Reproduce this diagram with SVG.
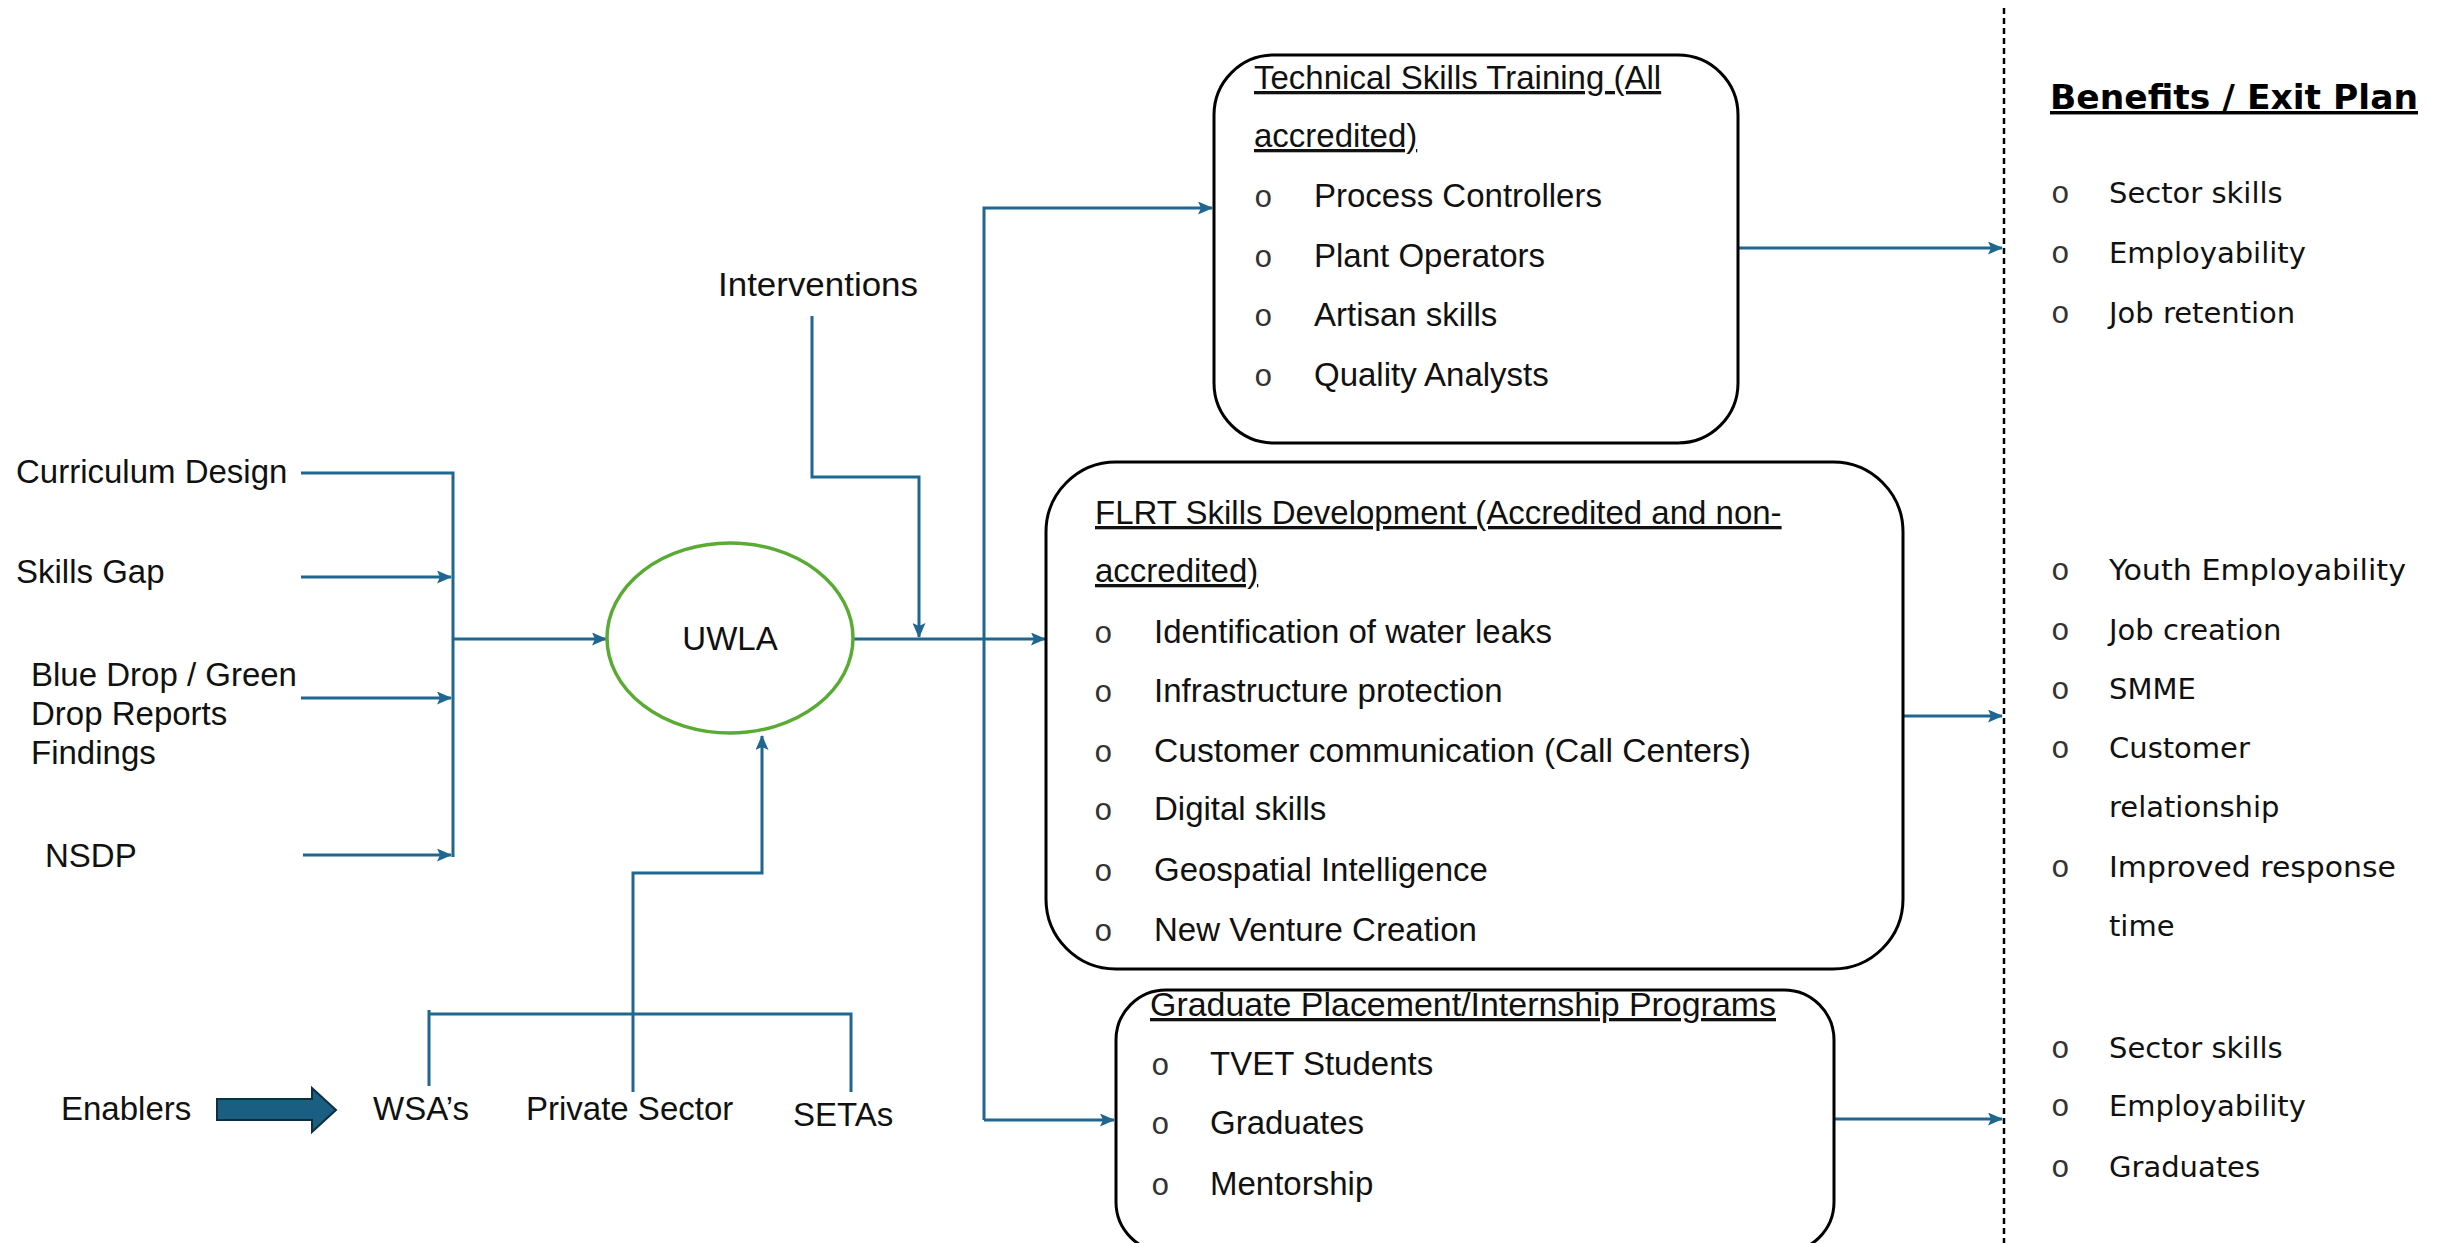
<svg xmlns="http://www.w3.org/2000/svg" width="2447" height="1243" viewBox="0 0 2447 1243">
  <style>
    .lbl { font-family: "Liberation Sans", Arial, sans-serif; font-size: 33px; fill: #111; }
    .ben { font-family: "DejaVu Sans", "Liberation Sans", sans-serif; font-size: 29px; fill: #111; }
    .benh { font-family: "DejaVu Sans", "Liberation Sans", sans-serif; font-size: 34.5px; font-weight: bold; fill: #000; text-decoration: underline; }
    .ul { text-decoration: underline; }
    .bul { font-family: "Liberation Mono", "Courier New", monospace; font-size: 31px; fill: #333; }
    .box { fill: #fff; stroke: #000; stroke-width: 3; }
    .wire { fill: none; stroke: #1f6690; stroke-width: 3; }
    .arr { marker-end: url(#head); }
  </style>
  <defs>
    <marker id="head" viewBox="0 0 15 13" markerWidth="15" markerHeight="13" refX="14" refY="6.5" orient="auto" markerUnits="userSpaceOnUse">
      <path d="M0,0 L15,6.5 L0,13 L3,6.5 z" fill="#1f6690"/>
    </marker>
  </defs>

  <rect width="2447" height="1243" fill="#fff"/>

  <!-- divider before the benefits column -->
  <line x1="2004" y1="8" x2="2004" y2="1243" stroke="#000" stroke-width="2.5" stroke-dasharray="6 4"/>

  <!-- connectors -->
  <g id="connectors">
    <path class="wire" d="M301,473 H453 V857"/>
    <path class="wire arr" d="M301,577 H451"/>
    <path class="wire arr" d="M301,698 H451"/>
    <path class="wire arr" d="M303,855 H451"/>
    <path class="wire arr" d="M453,639 H606"/>
    <path class="wire arr" d="M812,316 V477 H919 V637"/>
    <path class="wire arr" d="M853,639 H1045"/>
    <path class="wire arr" d="M984,1120 V208 H1212"/>
    <path class="wire arr" d="M984,1120 H1114"/>
    <path class="wire" d="M429,1086 V1010 M429,1014 H851 V1092"/>
    <path class="wire arr" d="M633,1092 V873 H762 V736"/>
    <path class="wire arr" d="M1738,248 H2002"/>
    <path class="wire arr" d="M1904,716 H2002"/>
    <path class="wire arr" d="M1834,1119 H2002"/>
  </g>

  <!-- inputs -->
  <g id="curriculum-design"><text class="lbl" x="16" y="483">Curriculum Design</text></g>
  <g id="skills-gap"><text class="lbl" x="16" y="583">Skills Gap</text></g>
  <g id="blue-green-drop">
    <text class="lbl" x="31" y="686">Blue Drop / Green</text>
    <text class="lbl" x="31" y="725">Drop Reports</text>
    <text class="lbl" x="31" y="764">Findings</text>
  </g>
  <g id="nsdp"><text class="lbl" x="45" y="867">NSDP</text></g>
  <g id="interventions"><text class="lbl" x="718" y="296" textLength="200" lengthAdjust="spacingAndGlyphs">Interventions</text></g>

  <!-- central node -->
  <g id="uwla">
    <ellipse cx="730" cy="638" rx="123" ry="95" fill="#fff" stroke="#5aab34" stroke-width="3.5"/>
    <text class="lbl" x="730" y="650" text-anchor="middle">UWLA</text>
  </g>

  <!-- enablers -->
  <g id="enablers">
    <text class="lbl" x="61" y="1120">Enablers</text>
    <polygon points="217,1099 312,1099 312,1088 336,1110 312,1132 312,1120 217,1120" fill="#1a5e82" stroke="#0d2f40" stroke-width="2"/>
  </g>
  <g id="wsa"><text class="lbl" x="373" y="1120">WSA’s</text></g>
  <g id="private-sector"><text class="lbl" x="526" y="1120">Private Sector</text></g>
  <g id="setas"><text class="lbl" x="793" y="1126">SETAs</text></g>

  <!-- technical skills training -->
  <g id="technical-skills">
    <rect class="box" x="1214" y="55" width="524" height="388" rx="60"/>
    <text class="lbl ul" x="1254" y="89">Technical Skills Training (All</text>
    <text class="lbl ul" x="1254" y="147">accredited)</text>
    <text class="bul" x="1254" y="207">o</text><text class="lbl" x="1314" y="207">Process Controllers</text>
    <text class="bul" x="1254" y="267">o</text><text class="lbl" x="1314" y="267">Plant Operators</text>
    <text class="bul" x="1254" y="326">o</text><text class="lbl" x="1314" y="326">Artisan skills</text>
    <text class="bul" x="1254" y="386">o</text><text class="lbl" x="1314" y="386">Quality Analysts</text>
  </g>

  <!-- FLRT skills development -->
  <g id="flrt-skills">
    <rect class="box" x="1046" y="462" width="857" height="507" rx="70"/>
    <text class="lbl ul" x="1095" y="524">FLRT Skills Development (Accredited and non-</text>
    <text class="lbl ul" x="1095" y="582">accredited)</text>
    <text class="bul" x="1094" y="643">o</text><text class="lbl" x="1154" y="643">Identification of water leaks</text>
    <text class="bul" x="1094" y="702">o</text><text class="lbl" x="1154" y="702">Infrastructure protection</text>
    <text class="bul" x="1094" y="762">o</text><text class="lbl" x="1154" y="762" textLength="597" lengthAdjust="spacingAndGlyphs">Customer communication (Call Centers)</text>
    <text class="bul" x="1094" y="820">o</text><text class="lbl" x="1154" y="820">Digital skills</text>
    <text class="bul" x="1094" y="881">o</text><text class="lbl" x="1154" y="881">Geospatial Intelligence</text>
    <text class="bul" x="1094" y="941">o</text><text class="lbl" x="1154" y="941">New Venture Creation</text>
  </g>

  <!-- graduate placement -->
  <g id="graduate-placement">
    <rect class="box" x="1116" y="990" width="718" height="262" rx="50"/>
    <text class="lbl ul" x="1150" y="1016" textLength="626" lengthAdjust="spacingAndGlyphs">Graduate Placement/Internship Programs</text>
    <text class="bul" x="1151" y="1075">o</text><text class="lbl" x="1210" y="1075">TVET Students</text>
    <text class="bul" x="1151" y="1134">o</text><text class="lbl" x="1210" y="1134">Graduates</text>
    <text class="bul" x="1151" y="1195">o</text><text class="lbl" x="1210" y="1195">Mentorship</text>
  </g>

  <!-- benefits / exit plan -->
  <g id="benefits">
    <text class="benh" x="2050" y="109">Benefits / Exit Plan</text>
    <text class="bul" x="2051" y="203">o</text><text class="ben" x="2109" y="203">Sector skills</text>
    <text class="bul" x="2051" y="263">o</text><text class="ben" x="2109" y="263">Employability</text>
    <text class="bul" x="2051" y="323">o</text><text class="ben" x="2109" y="323">Job retention</text>

    <text class="bul" x="2051" y="580">o</text><text class="ben" x="2109" y="580" textLength="297" lengthAdjust="spacingAndGlyphs">Youth Employability</text>
    <text class="bul" x="2051" y="640">o</text><text class="ben" x="2109" y="640">Job creation</text>
    <text class="bul" x="2051" y="699">o</text><text class="ben" x="2109" y="699">SMME</text>
    <text class="bul" x="2051" y="758">o</text><text class="ben" x="2109" y="758">Customer</text>
    <text class="ben" x="2109" y="817">relationship</text>
    <text class="bul" x="2051" y="877">o</text><text class="ben" x="2109" y="877" textLength="287" lengthAdjust="spacingAndGlyphs">Improved response</text>
    <text class="ben" x="2109" y="936">time</text>

    <text class="bul" x="2051" y="1058">o</text><text class="ben" x="2109" y="1058">Sector skills</text>
    <text class="bul" x="2051" y="1116">o</text><text class="ben" x="2109" y="1116">Employability</text>
    <text class="bul" x="2051" y="1177">o</text><text class="ben" x="2109" y="1177">Graduates</text>
  </g>
</svg>
